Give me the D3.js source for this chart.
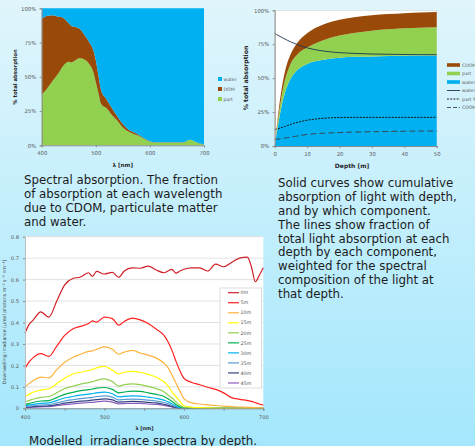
<!DOCTYPE html>
<html>
<head>
<meta charset="utf-8">
<style>
  html, body { margin: 0; padding: 0; }
  body { width: 475px; height: 446px; overflow: hidden; }
  svg { display: block; font-family: 'DejaVu Sans', Verdana, sans-serif; }
</style>
<script src="https://cdnjs.cloudflare.com/ajax/libs/d3/7.8.5/d3.min.js"></script>
</head>
<body>
<svg id="slide" width="475" height="446"></svg>
<script>
// spectral absorption (% of total)
var specWavelengths = [400, 410, 420, 430, 440, 450, 455, 460, 470, 480, 490, 495, 500, 505, 510, 520, 530, 540, 550, 560, 570, 580, 590, 600, 610, 620, 630, 640, 650, 660, 665, 670, 675, 680, 690, 700];
var specPart = [37, 41.5, 47, 52, 58, 61, 60.5, 61.5, 63.5, 62.5, 58, 54, 46, 38, 30, 27, 22, 18, 13, 10, 8.3, 6.8, 4.6, 2.7, 2, 2, 2, 2, 2, 2, 2.5, 3.5, 4, 3.3, 1.5, 0.5];
var specDom = [55, 53, 48, 42, 35, 28, 26.5, 25, 21.5, 17.5, 16, 16, 16, 12.5, 10, 6.5, 5, 3, 2.5, 1.5, 1.2, 0.7, 0.4, 0.3, 0.3, 0.3, 0.3, 0.3, 0.3, 0.2, 0.1, 0.1, 0.1, 0.1, 0.1, 0.1];
var specWater = [8, 5.5, 5, 6, 7, 11, 13, 13.5, 15, 20, 26, 30, 38, 49.5, 60, 66.5, 73, 79, 84.5, 88.5, 90.5, 92.5, 95, 97, 97.7, 97.7, 97.7, 97.7, 97.7, 97.8, 97.4, 96.4, 95.9, 96.6, 98.4, 99.4];
var specLegend = ['water', 'DOM', 'part'];
var absTicks = [0, 25, 50, 75, 100];
var specTicks = [400, 500, 600, 700];

// cumulative absorption with depth (%)
var depths = [0, 0.5, 1, 2, 3, 4, 5, 7, 10, 15, 20, 25, 30, 35, 40, 45, 50];
var cumWater = [0, 8, 15, 28, 38, 45, 50, 56, 60.5, 63.5, 65, 65.7, 66, 66.3, 66.5, 66.6, 66.7];
var cumPart = [0, 2, 4, 7, 9, 10, 11, 11.5, 12, 14.5, 16.5, 17.8, 19, 19.7, 20.2, 20.6, 20.9];
var cumCdom = [0, 1, 3, 5, 6, 7, 7, 8.5, 10.5, 11.5, 11.5, 11.5, 11.3, 11.2, 11.2, 11.2, 11.2];
var fracWater = [83, 82.3, 81.6, 80.3, 79, 77.8, 76.7, 74.7, 72.3, 70, 68.8, 68.2, 67.8, 67.6, 67.4, 67.3, 67.3];
var fracPart = [12.3, 12.5, 12.8, 13.5, 14.3, 15.1, 16, 17.4, 19, 20.4, 21, 21.1, 21.1, 21.1, 21.1, 21.1, 21.1];
var fracCdom = [4.9, 5, 5.1, 5.4, 5.8, 6.2, 6.6, 7.4, 8.5, 9.4, 9.9, 10.3, 10.5, 10.7, 10.9, 11, 11];
var depthTicks = [0, 10, 20, 30, 40, 50];
var depthLegend = ['CDOM', 'part', 'water', 'water %', 'part %', 'CDOM %'];

// modelled irradiance spectra
var irrWavelengths = [400, 405, 410, 420, 430, 440, 450, 460, 470, 480, 485, 490, 500, 510, 518, 525, 535, 545, 555, 565, 575, 580, 585, 590, 595, 600, 610, 620, 630, 640, 650, 660, 670, 680, 685, 690, 695, 700];
var irr0m = [0.35, 0.39, 0.41, 0.45, 0.425, 0.50, 0.575, 0.605, 0.612, 0.632, 0.615, 0.638, 0.626, 0.634, 0.611, 0.64, 0.655, 0.653, 0.663, 0.645, 0.632, 0.64, 0.648, 0.63, 0.64, 0.648, 0.655, 0.655, 0.64, 0.672, 0.66, 0.68, 0.70, 0.705, 0.66, 0.59, 0.62, 0.655];
var irr5m = [0.186, 0.215, 0.235, 0.255, 0.242, 0.29, 0.34, 0.37, 0.382, 0.395, 0.408, 0.402, 0.425, 0.418, 0.388, 0.405, 0.42, 0.412, 0.395, 0.37, 0.34, 0.31, 0.27, 0.22, 0.175, 0.14, 0.12, 0.11, 0.098, 0.088, 0.072, 0.05, 0.042, 0.036, 0.032, 0.026, 0.02, 0.015];
var irr10m = [0.10, 0.115, 0.128, 0.145, 0.142, 0.18, 0.215, 0.237, 0.252, 0.265, 0.268, 0.275, 0.286, 0.275, 0.252, 0.262, 0.27, 0.258, 0.248, 0.235, 0.21, 0.19, 0.155, 0.118, 0.08, 0.045, 0.025, 0.02, 0.016, 0.013, 0.01, 0.008, 0.006, 0.005, 0.004, 0.003, 0.002, 0.001];
var irr15m = [0.055, 0.065, 0.075, 0.085, 0.09, 0.115, 0.14, 0.16, 0.168, 0.176, 0.182, 0.188, 0.195, 0.178, 0.16, 0.168, 0.172, 0.168, 0.158, 0.145, 0.124, 0.105, 0.077, 0.055, 0.033, 0.012, 0.005, 0.003, 0.002, 0.001, 0, 0, 0, 0, 0, 0, 0, 0];
var irr20m = [0.03, 0.036, 0.042, 0.051, 0.055, 0.072, 0.092, 0.103, 0.113, 0.12, 0.124, 0.13, 0.137, 0.125, 0.103, 0.11, 0.114, 0.11, 0.102, 0.092, 0.077, 0.062, 0.048, 0.03, 0.014, 0.005, 0.002, 0.001, 0, 0, 0, 0, 0, 0, 0, 0, 0, 0];
var irr25m = [0.018, 0.022, 0.027, 0.034, 0.036, 0.05, 0.065, 0.074, 0.082, 0.087, 0.09, 0.094, 0.097, 0.088, 0.072, 0.076, 0.08, 0.079, 0.072, 0.065, 0.055, 0.044, 0.032, 0.018, 0.007, 0.002, 0.001, 0, 0, 0, 0, 0, 0, 0, 0, 0, 0, 0];
var irr30m = [0.012, 0.015, 0.018, 0.023, 0.025, 0.036, 0.048, 0.055, 0.061, 0.066, 0.069, 0.072, 0.075, 0.068, 0.053, 0.056, 0.058, 0.057, 0.052, 0.047, 0.038, 0.03, 0.021, 0.011, 0.004, 0.001, 0, 0, 0, 0, 0, 0, 0, 0, 0, 0, 0, 0];
var irr35m = [0.008, 0.01, 0.012, 0.015, 0.017, 0.025, 0.034, 0.04, 0.045, 0.049, 0.051, 0.054, 0.058, 0.052, 0.039, 0.041, 0.043, 0.042, 0.038, 0.034, 0.027, 0.021, 0.014, 0.007, 0.002, 0, 0, 0, 0, 0, 0, 0, 0, 0, 0, 0, 0, 0];
var irr40m = [0.005, 0.006, 0.008, 0.01, 0.011, 0.017, 0.024, 0.029, 0.033, 0.036, 0.038, 0.04, 0.044, 0.039, 0.029, 0.03, 0.032, 0.031, 0.028, 0.025, 0.019, 0.014, 0.009, 0.004, 0.001, 0, 0, 0, 0, 0, 0, 0, 0, 0, 0, 0, 0, 0];
var irr45m = [0.003, 0.004, 0.005, 0.007, 0.008, 0.012, 0.017, 0.021, 0.024, 0.027, 0.028, 0.03, 0.033, 0.029, 0.021, 0.022, 0.023, 0.023, 0.02, 0.018, 0.013, 0.01, 0.006, 0.002, 0, 0, 0, 0, 0, 0, 0, 0, 0, 0, 0, 0, 0, 0];
var irrLabels = ['0m', '5m', '10m', '15m', '20m', '25m', '30m', '35m', '40m', '45m'];
var irrTicksY = [0, 0.1, 0.2, 0.3, 0.4, 0.5, 0.6, 0.7, 0.8];
var irrTicksX = [400, 450, 500, 550, 600, 650, 700];

// slide text
var leftText = ['Spectral absorption. The fraction', 'of absorption at each wavelength', 'due to CDOM, particulate matter', 'and water.'];
var rightText = ['Solid curves show cumulative', 'absorption of light with depth,', 'and by which component.', 'The lines show fraction of', 'total light absorption at each', 'depth by each component,', 'weighted for the spectral', 'composition of the light at', 'that depth.'];
var captionText = 'Modelled  irradiance spectra by depth.';

var colWater = '#00b0f0';
var colDom = '#994a08';
var colPart = '#92d050';
var axisGrey = '#8c8c8c';
var labelGrey = '#595959';

var svg = d3.select('#slide');

drawBackground();
drawSpectral();
drawDepth();
drawIrradiance();
drawText();

function drawBackground() {
  var grad = svg.append('defs').append('linearGradient')
    .attr('id', 'bg')
    .attr('x1', 0).attr('y1', 0).attr('x2', 0).attr('y2', 1);
  grad.append('stop').attr('offset', '0%').attr('stop-color', '#e0f5fc');
  grad.append('stop').attr('offset', '45%').attr('stop-color', '#c5effc');
  grad.append('stop').attr('offset', '100%').attr('stop-color', '#a4e7fc');

  svg.append('rect')
    .attr('width', 475)
    .attr('height', 446)
    .attr('fill', 'url(#bg)');

  // darker corners of the slide frame (outside a big rounded rect)
  svg.append('path')
    .attr('d', 'M-20,-60H495V490H-20Z M-6,-30H481V452A22,22 0 0 1 459,474H16A22,22 0 0 1 -6,452Z')
    .attr('fill-rule', 'evenodd')
    .attr('fill', '#5ab9df');
}

function styleAxis(g, fontSize) {
  g.select('.domain').attr('stroke', axisGrey);
  g.selectAll('.tick line').attr('stroke', axisGrey);
  g.selectAll('.tick text')
    .attr('fill', labelGrey)
    .style('font-size', fontSize + 'px')
    .style('font-family', "'DejaVu Sans', sans-serif");
}

function drawSpectral() {
  var x = d3.scaleLinear().domain([400, 700]).range([41.7, 204]);
  var y = d3.scaleLinear().domain([0, 100]).range([145.3, 8.3]);

  var rows = specWavelengths.map(function (w, i) {
    return { nm: w, part: specPart[i], dom: specDom[i], water: specWater[i] };
  });
  var series = d3.stack().keys(['part', 'dom', 'water'])(rows);
  var colours = { part: colPart, dom: colDom, water: colWater };

  var area = d3.area()
    .x(function (d) { return x(d.data.nm); })
    .y0(function (d) { return y(d[0]); })
    .y1(function (d) { return y(d[1]); })
    .curve(d3.curveMonotoneX);

  var g = svg.append('g').attr('class', 'spectral');
  g.selectAll('path.layer')
    .data(series)
    .enter()
    .append('path')
    .attr('class', 'layer')
    .attr('d', area)
    .attr('fill', function (d) { return colours[d.key]; });

  var yAxis = g.append('g')
    .attr('transform', 'translate(' + x(400) + ',0)')
    .call(d3.axisLeft(y).tickValues(absTicks).tickSize(2).tickPadding(3.5)
      .tickFormat(function (d) { return d + '%'; }));
  styleAxis(yAxis, 5.3);

  var xAxis = g.append('g')
    .attr('transform', 'translate(0,' + y(0) + ')')
    .call(d3.axisBottom(x).tickValues(specTicks).tickSize(2).tickPadding(4).tickFormat(d3.format('d')));
  styleAxis(xAxis, 5.3);

  g.append('text')
    .attr('x', 122.8)
    .attr('y', 167)
    .attr('text-anchor', 'middle')
    .attr('font-size', 5.6)
    .attr('font-weight', 'bold')
    .attr('fill', '#262626')
    .text('λ [nm]');

  g.append('text')
    .attr('transform', 'translate(16.5,77) rotate(-90)')
    .attr('text-anchor', 'middle')
    .attr('font-size', 5.3)
    .attr('font-weight', 'bold')
    .attr('fill', '#262626')
    .text('% total absorption');

  // legend
  var legendColours = [colWater, colDom, colPart];
  var leg = g.selectAll('g.legend')
    .data(specLegend)
    .enter()
    .append('g')
    .attr('class', 'legend')
    .attr('transform', function (d, i) { return 'translate(218,' + (79 + i * 10) + ')'; });
  leg.append('rect')
    .attr('y', -2)
    .attr('width', 4)
    .attr('height', 4)
    .attr('fill', function (d, i) { return legendColours[i]; });
  leg.append('text')
    .attr('x', 5.5)
    .attr('dy', '0.35em')
    .attr('font-size', 4.6)
    .attr('fill', labelGrey)
    .text(function (d) { return d; });
}

function drawDepth() {
  var x = d3.scaleLinear().domain([0, 50]).range([274.7, 436.7]);
  var y = d3.scaleLinear().domain([0, 100]).range([146, 10.3]);

  var g = svg.append('g').attr('class', 'depth');

  // plot area
  g.append('rect')
    .attr('x', x(0))
    .attr('y', y(100))
    .attr('width', x(50) - x(0))
    .attr('height', y(0) - y(100))
    .attr('fill', '#fff')
    .attr('stroke', '#d0d0d0')
    .attr('stroke-width', 0.6);

  var rows = depths.map(function (d, i) {
    return { depth: d, water: cumWater[i], part: cumPart[i], cdom: cumCdom[i] };
  });
  var series = d3.stack().keys(['water', 'part', 'cdom'])(rows);
  var colours = { water: colWater, part: colPart, cdom: colDom };

  var area = d3.area()
    .x(function (d) { return x(d.data.depth); })
    .y0(function (d) { return y(d[0]); })
    .y1(function (d) { return y(d[1]); })
    .curve(d3.curveMonotoneX);

  g.selectAll('path.layer')
    .data(series)
    .enter()
    .append('path')
    .attr('class', 'layer')
    .attr('d', area)
    .attr('fill', function (d) { return colours[d.key]; });

  var fractions = [
    { values: fracWater, stroke: '#1d3450', dash: null, width: 0.9 },
    { values: fracPart, stroke: '#111', dash: '2,1.2', width: 1 },
    { values: fracCdom, stroke: '#3b4654', dash: '6,3', width: 1 }
  ];
  var line = d3.line()
    .x(function (d, i) { return x(depths[i]); })
    .y(function (d) { return y(d); })
    .curve(d3.curveMonotoneX);

  g.selectAll('path.frac')
    .data(fractions)
    .enter()
    .append('path')
    .attr('class', 'frac')
    .attr('d', function (d) { return line(d.values); })
    .attr('fill', 'none')
    .attr('stroke', function (d) { return d.stroke; })
    .attr('stroke-width', function (d) { return d.width; })
    .attr('stroke-dasharray', function (d) { return d.dash; });

  var yAxis = g.append('g')
    .attr('transform', 'translate(' + x(0) + ',0)')
    .call(d3.axisLeft(y).tickValues(absTicks).tickSize(2).tickPadding(3.5)
      .tickFormat(function (d) { return d + '%'; }));
  styleAxis(yAxis, 5.3);

  var xAxis = g.append('g')
    .attr('transform', 'translate(0,' + y(0) + ')')
    .call(d3.axisBottom(x).tickValues(depthTicks).tickSize(2).tickPadding(4));
  styleAxis(xAxis, 5.3);

  g.append('text')
    .attr('x', 352)
    .attr('y', 168)
    .attr('text-anchor', 'middle')
    .attr('font-size', 6)
    .attr('font-weight', 'bold')
    .attr('fill', '#262626')
    .text('Depth [m]');

  g.append('text')
    .attr('transform', 'translate(248,78) rotate(-90)')
    .attr('text-anchor', 'middle')
    .attr('font-size', 6.2)
    .attr('font-weight', 'bold')
    .attr('fill', '#262626')
    .text('% total absorption');

  // legend, cut by the slide edge as in the original
  var legendStyles = [
    { fill: colDom }, { fill: colPart }, { fill: colWater },
    { stroke: '#1d3450', dash: null }, { stroke: '#111', dash: '2,1.2' }, { stroke: '#3b4654', dash: '4,2' }
  ];
  var leg = g.selectAll('g.legend')
    .data(depthLegend)
    .enter()
    .append('g')
    .attr('class', 'legend')
    .attr('transform', function (d, i) { return 'translate(447,' + (65 + i * 8.5) + ')'; });
  leg.each(function (d, i) {
    var s = legendStyles[i];
    var item = d3.select(this);
    if (s.fill) {
      item.append('rect')
        .attr('y', -1.8)
        .attr('width', 13)
        .attr('height', 3.6)
        .attr('fill', s.fill);
    } else {
      item.append('line')
        .attr('x2', 13)
        .attr('stroke', s.stroke)
        .attr('stroke-width', 0.9)
        .attr('stroke-dasharray', s.dash);
    }
  });
  leg.append('text')
    .attr('x', 15)
    .attr('dy', '0.35em')
    .attr('font-size', 4.6)
    .attr('fill', labelGrey)
    .text(function (d) { return d; });
}

function drawIrradiance() {
  var x = d3.scaleLinear().domain([400, 700]).range([25, 263.3]);
  var y = d3.scaleLinear().domain([0, 0.8]).range([408.3, 236.7]);

  var g = svg.append('g').attr('class', 'irradiance');

  g.append('rect')
    .attr('x', x(400))
    .attr('y', y(0.8))
    .attr('width', x(700) - x(400))
    .attr('height', y(0) - y(0.8))
    .attr('fill', '#fff');

  // gridlines
  g.selectAll('line.grid')
    .data(irrTicksY.slice(1))
    .enter()
    .append('line')
    .attr('class', 'grid')
    .attr('x1', x(400))
    .attr('x2', x(700))
    .attr('y1', function (d) { return y(d); })
    .attr('y2', function (d) { return y(d); })
    .attr('stroke', '#d9d9d9')
    .attr('stroke-width', 0.8);

  var spectra = [irr0m, irr5m, irr10m, irr15m, irr20m, irr25m, irr30m, irr35m, irr40m, irr45m];
  var colours = ['#cf1f26', '#ff2020', '#ffb33b', '#ffff00', '#92d050', '#00b050', '#00b0f0', '#5b9bd5', '#34467e', '#8e5cc0'];

  var line = d3.line()
    .x(function (d, i) { return x(irrWavelengths[i]); })
    .y(function (d) { return y(d); })
    .curve(d3.curveMonotoneX);

  // deepest first so the surface spectra sit on top
  g.selectAll('path.spectrum')
    .data(spectra.map(function (s, i) { return { values: s, colour: colours[i] }; }).reverse())
    .enter()
    .append('path')
    .attr('class', 'spectrum')
    .attr('d', function (d) { return line(d.values); })
    .attr('fill', 'none')
    .attr('stroke', function (d) { return d.colour; })
    .attr('stroke-width', 1.2);

  var yAxis = g.append('g')
    .attr('transform', 'translate(' + x(400) + ',0)')
    .call(d3.axisLeft(y).tickValues(irrTicksY).tickSize(2).tickPadding(4)
      .tickFormat(function (d) { return d === 0 ? '0' : d3.format('.1f')(d); }));
  styleAxis(yAxis, 5.2);
  yAxis.select('.domain').attr('stroke', '#bfbfbf');

  var xAxis = g.append('g')
    .attr('transform', 'translate(0,' + y(0) + ')')
    .call(d3.axisBottom(x).tickValues(irrTicksX).tickSize(2.5).tickPadding(4.5)
      .tickFormat(function (d) { return d % 100 === 0 ? d : ''; }));
  styleAxis(xAxis, 5.2);

  g.append('text')
    .attr('x', 144.5)
    .attr('y', 430)
    .attr('text-anchor', 'middle')
    .attr('font-size', 5)
    .attr('font-weight', 'bold')
    .attr('fill', '#262626')
    .text('λ [nm]');

  g.append('text')
    .attr('transform', 'translate(6,322) rotate(-90)')
    .attr('text-anchor', 'middle')
    .attr('font-size', 4.7)
    .attr('fill', '#404040')
    .text('Downwelling irradiance [µmol photons m⁻² s⁻¹ nm⁻¹]');

  // legend box
  g.append('rect')
    .attr('x', 220)
    .attr('y', 288)
    .attr('width', 41.7)
    .attr('height', 100)
    .attr('fill', '#fff')
    .attr('stroke', '#c8c8c8')
    .attr('stroke-width', 0.6);

  var leg = g.selectAll('g.legend')
    .data(irrLabels)
    .enter()
    .append('g')
    .attr('class', 'legend')
    .attr('transform', function (d, i) { return 'translate(228,' + (292.7 + i * 10.03) + ')'; });
  leg.append('line')
    .attr('x2', 11)
    .attr('stroke', function (d, i) { return colours[i]; })
    .attr('stroke-width', 1.2);
  leg.append('text')
    .attr('x', 12.5)
    .attr('dy', '0.35em')
    .attr('font-size', 4.8)
    .attr('fill', labelGrey)
    .text(function (d) { return d; });
}

function drawText() {
  var g = svg.append('g')
    .attr('font-size', 11.8)
    .attr('fill', '#1c1c1c');

  g.selectAll('text.left')
    .data(leftText)
    .enter()
    .append('text')
    .attr('class', 'left')
    .attr('x', 24)
    .attr('y', function (d, i) { return 184.3 + i * 14; })
    .text(function (d) { return d; });

  g.selectAll('text.right')
    .data(rightText)
    .enter()
    .append('text')
    .attr('class', 'right')
    .attr('x', 278)
    .attr('y', function (d, i) { return 186.7 + i * 13.95; })
    .text(function (d) { return d; });

  g.append('text')
    .attr('x', 29)
    .attr('y', 445)
    .attr('xml:space', 'preserve')
    .style('white-space', 'pre')
    .text(captionText);
}
</script>
</body>
</html>
